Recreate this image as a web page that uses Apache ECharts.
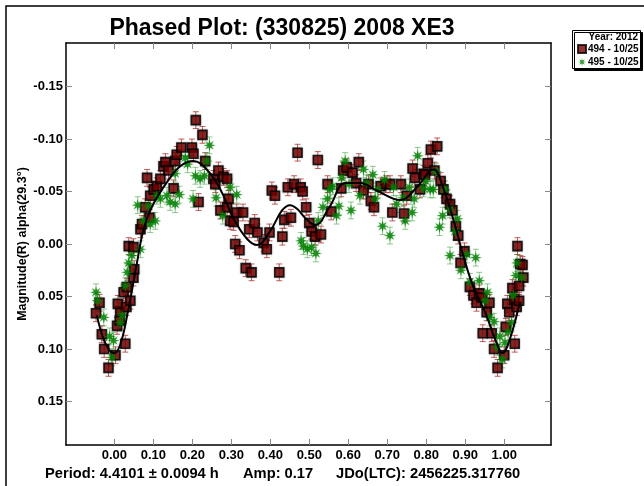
<!DOCTYPE html>
<html>
<head>
<meta charset="utf-8">
<script src="https://cdn.jsdelivr.net/npm/echarts@6/dist/echarts.min.js"></script>
<style>
html, body { margin: 0; padding: 0; background: #fff; }
#chart { width: 644px; height: 486px; }
</style>
</head>
<body>
<div id="chart"></div>
<script>
// Phase tick positions and magnitude tick positions
const phaseTicks = [0, 0.1, 0.2, 0.3, 0.4, 0.5, 0.6, 0.7, 0.8, 0.9, 1.0];
const magTicks = [-0.15, -0.10, -0.05, 0, 0.05, 0.10, 0.15];

// Session 494 (2012-10-25): [phase, magnitude]
const session494 = [
  [-0.047,0.066],[-0.038,0.056],[-0.032,0.086],[-0.026,0.100],[-0.015,0.118],[0.003,0.106],
  [0.007,0.078],[0.014,0.073],[0.015,0.064],[0.009,0.057],[0.024,0.046],[0.028,0.095],
  [0.031,0.060],[0.032,0.041],[0.041,0.054],[0.049,0.032],[0.051,0.024],[0.037,0.002],
  [0.049,0.003],[0.067,-0.014],[0.071,-0.019],[0.079,-0.035],[0.090,-0.025],[0.084,-0.063],
  [0.092,-0.046],[0.101,-0.052],[0.109,-0.055],[0.118,-0.062],[0.126,-0.074],[0.131,-0.078],
  [0.139,-0.070],[0.152,-0.053],[0.156,-0.079],[0.160,-0.085],[0.172,-0.092],[0.199,-0.092],
  [0.203,-0.086],[0.209,-0.118],[0.226,-0.104],[0.233,-0.079],[0.216,-0.040],[0.254,-0.062],
  [0.259,-0.057],[0.267,-0.070],[0.280,-0.064],[0.289,-0.062],[0.272,-0.032],[0.289,-0.035],
  [0.293,-0.043],[0.297,-0.022],[0.306,-0.021],[0.314,-0.030],[0.330,-0.030],[0.310,0.000],
  [0.321,0.006],[0.337,0.023],[0.352,0.027],[0.346,-0.014],[0.360,-0.020],[0.367,-0.011],
  [0.383,-0.001],[0.391,0.005],[0.398,-0.011],[0.423,0.027],[0.431,-0.007],[0.436,-0.023],
  [0.453,-0.025],[0.404,-0.051],[0.412,-0.046],[0.445,-0.054],[0.461,-0.057],[0.478,-0.054],
  [0.483,-0.050],[0.470,-0.087],[0.522,-0.080],[0.492,-0.035],[0.500,-0.020],[0.506,-0.012],
  [0.515,-0.007],[0.530,-0.009],[0.547,-0.057],[0.556,-0.031],[0.582,-0.053],[0.587,-0.070],
  [0.596,-0.073],[0.611,-0.068],[0.620,-0.058],[0.627,-0.078],[0.652,-0.057],[0.639,-0.051],
  [0.658,-0.041],[0.666,-0.035],[0.683,-0.055],[0.697,-0.057],[0.707,-0.057],[0.713,-0.030],
  [0.735,-0.057],[0.743,-0.029],[0.750,-0.046],[0.765,-0.072],[0.771,-0.063],[0.784,-0.052],
  [0.793,-0.067],[0.797,-0.066],[0.804,-0.077],[0.812,-0.090],[0.828,-0.093],[0.821,-0.070],
  [0.837,-0.060],[0.844,-0.052],[0.852,-0.043],[0.861,-0.038],[0.867,-0.032],[0.876,-0.017],
  [0.882,-0.008],[0.898,0.007],[0.888,0.018],[0.912,0.041],[0.921,0.049],[0.929,0.056],
  [0.936,0.047],[0.942,0.051],[0.962,0.056],[0.955,0.065],[0.945,0.085],[0.968,0.085],
  [0.974,0.100],[0.983,0.118],[1.000,0.106],[1.004,0.079],[1.008,0.057],[1.013,0.065],
  [1.021,0.042],[1.026,0.053],[1.032,0.060],[1.038,0.054],[1.034,0.002],[1.041,0.019],
  [1.047,0.020],[1.049,0.032],[1.038,0.040],[1.027,0.095]
];

// Session 495 (2012-10-25): [phase, magnitude]
const session495 = [
  [-0.047,0.046],[-0.043,0.054],[-0.027,0.070],[-0.012,0.088],[-0.002,0.092],[-0.006,0.108],
  [0.015,0.075],[0.020,0.068],[0.028,0.040],[0.033,0.027],[0.037,0.018],[0.045,0.011],
  [0.067,0.005],[0.060,-0.037],[0.088,-0.036],[0.075,-0.022],[0.092,-0.019],[0.105,-0.022],
  [0.109,-0.046],[0.118,-0.043],[0.135,-0.046],[0.143,-0.040],[0.156,-0.038],[0.167,-0.047],
  [0.156,-0.067],[0.182,-0.082],[0.188,-0.076],[0.202,-0.043],[0.208,-0.065],[0.220,-0.062],
  [0.231,-0.065],[0.237,-0.079],[0.244,-0.094],[0.261,-0.044],[0.278,-0.027],[0.297,-0.054],
  [0.314,-0.047],[0.479,-0.003],[0.485,0.002],[0.495,0.005],[0.506,0.003],[0.517,0.009],
  [0.523,-0.022],[0.535,-0.035],[0.547,-0.043],[0.553,-0.052],[0.560,-0.055],[0.570,-0.027],
  [0.576,-0.036],[0.583,-0.063],[0.592,-0.079],[0.602,-0.057],[0.607,-0.032],[0.630,-0.046],
  [0.639,-0.071],[0.647,-0.058],[0.663,-0.066],[0.669,-0.043],[0.676,-0.052],[0.688,-0.017],
  [0.693,-0.061],[0.707,-0.008],[0.716,-0.054],[0.724,-0.038],[0.741,-0.044],[0.746,-0.022],
  [0.757,-0.054],[0.764,-0.030],[0.769,-0.043],[0.778,-0.084],[0.793,-0.053],[0.799,-0.060],
  [0.810,-0.052],[0.818,-0.052],[0.825,-0.069],[0.834,-0.016],[0.842,-0.027],[0.848,-0.052],
  [0.861,0.011],[0.861,-0.033],[0.874,-0.012],[0.880,-0.024],[0.889,0.025],[0.904,0.010],
  [0.927,0.013],[0.912,0.036],[0.936,0.035],[0.951,0.054],[0.957,0.046],[0.963,0.070],
  [0.974,0.074],[0.989,0.088],[0.982,0.098],[0.995,0.110],[1.002,0.094],[1.010,0.084],
  [1.019,0.075],[1.023,0.049],[1.030,0.030],[1.033,0.018],[1.045,0.032]
];

// Fourier fit curve through the phased data
const fitCurve = [
  [-0.045,0.068],[-0.030,0.088],[-0.015,0.100],[0.000,0.104],[0.015,0.096],[0.033,0.068],
  [0.058,0.018],[0.075,-0.014],[0.097,-0.036],[0.135,-0.059],[0.169,-0.074],[0.203,-0.079],
  [0.237,-0.071],[0.272,-0.052],[0.306,-0.024],[0.340,-0.005],[0.366,0.001],[0.400,-0.0125],
  [0.430,-0.032],[0.451,-0.037],[0.470,-0.033],[0.489,-0.025],[0.515,-0.018],[0.553,-0.036],
  [0.592,-0.058],[0.630,-0.058],[0.673,-0.051],[0.733,-0.042],[0.776,-0.054],[0.810,-0.070],
  [0.820,-0.071],[0.843,-0.054],[0.869,-0.024],[0.895,0.011],[0.920,0.040],[0.951,0.065],
  [0.980,0.094],[0.995,0.104],[1.015,0.090],[1.040,0.055]
];

// Photometric error (mag) of each session
const err494 = 0.008;
const err495 = 0.008;

const FONT = 'Liberation Sans, Arial, sans-serif';

// Eight-pointed asterisk-like star marker
function starPath(n, rOut, rIn) {
  const pts = [];
  for (let i = 0; i < 2 * n; i++) {
    const a = Math.PI * i / n - Math.PI / 2;
    const r = i % 2 ? rIn : rOut;
    pts.push((50 + 50 * r * Math.cos(a)).toFixed(2) + ' ' + (50 + 50 * r * Math.sin(a)).toFixed(2));
  }
  return 'path://M' + pts.join(' L') + ' Z';
}

// Vertical error bars with small caps
function errorBars(pts, err, color) {
  return {
    type: 'custom',
    silent: true,
    z: 1,
    data: pts.map(p => [p[0], p[1] - err, p[1] + err]),
    encode: { x: 0, y: [1, 2] },
    renderItem(params, api) {
      const x = api.value(0);
      const lo = api.coord([x, api.value(1)]);
      const hi = api.coord([x, api.value(2)]);
      const w = 3;
      const style = { stroke: color, lineWidth: 1 };
      return {
        type: 'group',
        children: [
          { type: 'line', shape: { x1: lo[0], y1: lo[1], x2: hi[0], y2: hi[1] }, style },
          { type: 'line', shape: { x1: lo[0] - w, y1: lo[1], x2: lo[0] + w, y2: lo[1] }, style },
          { type: 'line', shape: { x1: hi[0] - w, y1: hi[1], x2: hi[0] + w, y2: hi[1] }, style }
        ]
      };
    }
  };
}

const axisLine = { show: true, onZero: false, lineStyle: { color: '#000', width: 1.5 } };
const tickStyle = { show: true, inside: true, length: 6, lineStyle: { color: '#888', width: 1 } };
const labelFont = { color: '#000', fontFamily: FONT, fontWeight: 'bold', fontSize: 13 };

const X_MIN = -0.124, X_MAX = 1.12;
const Y_MIN = -0.1915, Y_MAX = 0.1915;

const chart = echarts.init(document.getElementById('chart'), null, { renderer: 'canvas' });
chart.setOption({
  animation: false,
  backgroundColor: '#fff',
  title: {
    text: 'Phased Plot: (330825) 2008 XE3',
    left: 277, top: 12, textAlign: 'center',
    textStyle: { fontFamily: FONT, fontWeight: 'bold', fontSize: 23, color: '#000' }
  },
  grid: { left: 66, top: 43, width: 485, height: 402, containLabel: false },
  legend: {
    data: ['494 - 10/25', '495 - 10/25'],
    orient: 'vertical', left: 577, top: 44,
    itemWidth: 8, itemHeight: 8, itemGap: 3, padding: 0,
    textStyle: { fontFamily: FONT, fontWeight: 'bold', fontSize: 10, color: '#000', padding: [0, 0, 0, -3] },
    selectedMode: false, z: 10
  },
  xAxis: [
    {
      type: 'value', min: X_MIN, max: X_MAX, position: 'bottom',
      axisLine, splitLine: { show: false },
      axisTick: Object.assign({ customValues: phaseTicks }, tickStyle),
      axisLabel: Object.assign({ customValues: phaseTicks, margin: 4, formatter: v => v.toFixed(2) }, labelFont)
    },
    {
      type: 'value', min: X_MIN, max: X_MAX, position: 'top',
      axisLine, splitLine: { show: false },
      axisTick: Object.assign({ customValues: phaseTicks }, tickStyle),
      axisLabel: { show: false }
    }
  ],
  yAxis: [
    {
      type: 'value', min: Y_MIN, max: Y_MAX, inverse: true, position: 'left',
      name: 'Magnitude(R) alpha(29.3°)', nameLocation: 'middle', nameRotate: 90, nameGap: 37,
      nameMoveOverlap: false,
      nameTextStyle: { fontFamily: FONT, fontWeight: 'bold', fontSize: 12.5, color: '#000' },
      axisLine, splitLine: { show: false },
      axisTick: Object.assign({ customValues: magTicks }, tickStyle),
      axisLabel: Object.assign({ customValues: magTicks, margin: 3, formatter: v => (Math.abs(v) < 1e-9 ? 0 : v).toFixed(2) }, labelFont)
    },
    {
      type: 'value', min: Y_MIN, max: Y_MAX, inverse: true, position: 'right',
      axisLine, splitLine: { show: false },
      axisTick: Object.assign({ customValues: magTicks }, tickStyle),
      axisLabel: { show: false }
    }
  ],
  series: [
    errorBars(session494, err494, 'rgba(170,40,40,0.75)'),
    errorBars(session495, err495, 'rgba(40,150,40,0.5)'),
    {
      name: '494 - 10/25', type: 'scatter', z: 3,
      data: session494, symbol: 'rect', symbolSize: 9,
      itemStyle: { color: '#7a0000', borderColor: '#000', borderWidth: 1.6, shadowColor: 'rgba(0,0,0,0.35)', shadowBlur: 2 }
    },
    {
      name: '495 - 10/25', type: 'scatter', z: 4,
      data: session495, symbol: starPath(8, 1, 0.38), symbolSize: 12,
      itemStyle: { color: '#008000', shadowColor: 'rgba(0,128,0,0.4)', shadowBlur: 2 }
    },
    {
      name: 'fit', type: 'line', z: 5, data: fitCurve, smooth: 0.4,
      showSymbol: false, symbol: 'none', silent: true,
      lineStyle: { color: '#000', width: 2 }
    }
  ],
  graphic: [
    // outer frame
    { type: 'polyline', silent: true, shape: { points: [[6, 486], [6, 6], [644, 6]] }, style: { stroke: '#000', lineWidth: 1.5, fill: null } },
    // legend box with drop shadow
    { type: 'rect', silent: true, z: 5, shape: { x: 572.5, y: 30.5, width: 68, height: 38 },
      style: { fill: '#fff', stroke: '#000', lineWidth: 1, shadowColor: '#000', shadowOffsetX: 2, shadowOffsetY: 2, shadowBlur: 0 } },
    { type: 'text', silent: true, z: 11, x: 638, y: 37.5,
      style: { text: 'Year: 2012', align: 'right', verticalAlign: 'middle', font: 'bold 10px ' + FONT, fill: '#000' } },
    // footer with fit parameters
    { type: 'text', silent: true, x: 45, y: 474,
      style: { text: 'Period: 4.4101 ± 0.0094 h', verticalAlign: 'middle', font: 'bold 14.7px ' + FONT, fill: '#000' } },
    { type: 'text', silent: true, x: 243, y: 474,
      style: { text: 'Amp: 0.17', verticalAlign: 'middle', font: 'bold 14.7px ' + FONT, fill: '#000' } },
    { type: 'text', silent: true, x: 336, y: 474,
      style: { text: 'JDo(LTC): 2456225.317760', verticalAlign: 'middle', font: 'bold 14.7px ' + FONT, fill: '#000' } }
  ]
});
</script>
</body>
</html>
